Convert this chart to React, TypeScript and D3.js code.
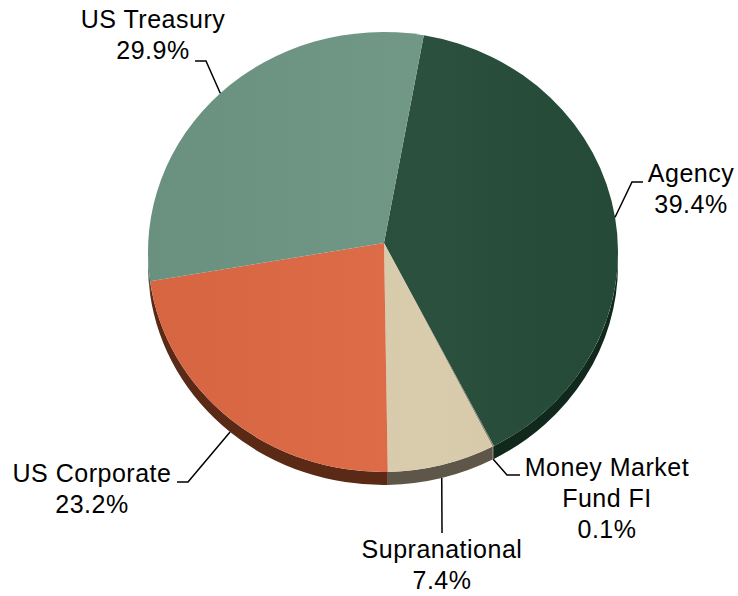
import React from "react";
import * as d3 from "d3";

const width = 738;
const height = 596;

// data
const categories = ["Agency", "Money Market Fund FI", "Supranational", "US Corporate", "US Treasury"];
const values = [39.4, 0.1, 7.4, 23.2, 29.9];
const labelLines = [["Agency"], ["Money Market", "Fund FI"], ["Supranational"], ["US Corporate"], ["US Treasury"]];
const topColors = ["#254b38", "#8a8070", "#d8cbab", "#dd6843", "#6d9583"];
const sideColors = ["#11281c", "#4a4338", "#5e5649", "#5a2a17", "#3d5a4b"];

// layout of the pie (Excel-style 3D ellipse)
const pie3d = { cx: 383, cy: 252, rx: 235, ry: 220, depth: 13, apexDx: 1, apexDy: -9, start: 10 };

// manual label placement: text centre/first baseline, elbow point, end of horizontal tick
const labelLayout = [
  { x: 691, y: 182, elbow: [632, 182], end: [643, 182] },
  { x: 607, y: 476, elbow: [507, 475], end: [520, 475] },
  { x: 442, y: 558, elbow: [442, 533], end: [442, 533] },
  { x: 92, y: 482, elbow: [188, 482], end: [177, 482] },
  { x: 153, y: 28, elbow: [206, 61], end: [195, 61] },
];

const lineHeight = 31;

const App = () => {
  const { cx, cy, rx, ry, depth } = pie3d;
  const rad = Math.PI / 180;
  const arcs = d3
    .pie<number>()
    .sort(null)
    .startAngle(pie3d.start * rad)
    .endAngle((pie3d.start + 360) * rad)(values);

  const pt = (t: number, dy = 0): [number, number] => [cx + rx * Math.sin(t), cy - ry * Math.cos(t) + dy];
  const apex: [number, number] = [cx + pie3d.apexDx, cy + pie3d.apexDy];

  const arcTo = (a: number, b: number, dy = 0, sweep = 1) => {
    const p = sweep ? pt(b, dy) : pt(a, dy);
    const large = Math.abs(b - a) > Math.PI ? 1 : 0;
    return `A${rx},${ry} 0 ${large} ${sweep} ${p[0]},${p[1]}`;
  };

  const topPath = (a: number, b: number) => {
    const p0 = pt(a);
    return `M${apex[0]},${apex[1]} L${p0[0]},${p0[1]} ${arcTo(a, b)} Z`;
  };

  const sidePath = (a: number, b: number) => {
    const lo = Math.max(a, Math.PI / 2);
    const hi = Math.min(b, (3 * Math.PI) / 2);
    if (hi <= lo) return null;
    const p0 = pt(lo);
    const p1 = pt(hi, depth);
    return `M${p0[0]},${p0[1]} ${arcTo(lo, hi)} L${p1[0]},${p1[1]} ${arcTo(lo, hi, depth, 0)} Z`;
  };

  const leaders = arcs.map((d, i) => {
    const mid = (d.startAngle + d.endAngle) / 2;
    const front = Math.cos(mid) < 0;
    const s = pt(mid, front ? depth : 0);
    const l = labelLayout[i];
    return d3.line()([s, l.elbow as [number, number], l.end as [number, number]]);
  });

  return (
    <svg
      width={width}
      height={height}
      style={{ position: "absolute", left: 0, top: 0, background: "#fff" }}
      fontFamily="'Liberation Sans', Arial, sans-serif"
    >
      <defs>
        <linearGradient id="shade" x1="0" x2="1" y1="0" y2="0">
          <stop offset="0" stopColor="#000" stopOpacity="0.03" />
          <stop offset="0.6" stopColor="#fff" stopOpacity="0.03" />
          <stop offset="1" stopColor="#000" stopOpacity="0.02" />
        </linearGradient>
      </defs>
      <g>
        {arcs.map((d, i) => {
          const p = sidePath(d.startAngle, d.endAngle);
          return p ? <path key={"s" + i} d={p} fill={sideColors[i]} /> : null;
        })}
        {arcs.map((d, i) => (
          <path key={"t" + i} d={topPath(d.startAngle, d.endAngle)} fill={topColors[i]} />
        ))}
        <ellipse cx={cx} cy={cy} rx={rx} ry={ry} fill="url(#shade)" />
      </g>
      <g fill="none" stroke="#000" strokeWidth={1.5}>
        {leaders.map((d, i) => (
          <path key={"l" + i} d={d ?? ""} />
        ))}
      </g>
      <g fontSize={25} textAnchor="middle" fill="#000">
        {categories.map((c, i) => {
          const l = labelLayout[i];
          const lines = [...labelLines[i], `${values[i].toFixed(1)}%`];
          return (
            <text key={c} x={l.x} y={l.y} letterSpacing={0.5}>
              {lines.map((t, j) => (
                <tspan key={j} x={l.x} y={l.y + j * lineHeight}>
                  {t}
                </tspan>
              ))}
            </text>
          );
        })}
      </g>
    </svg>
  );
};

export default App;
